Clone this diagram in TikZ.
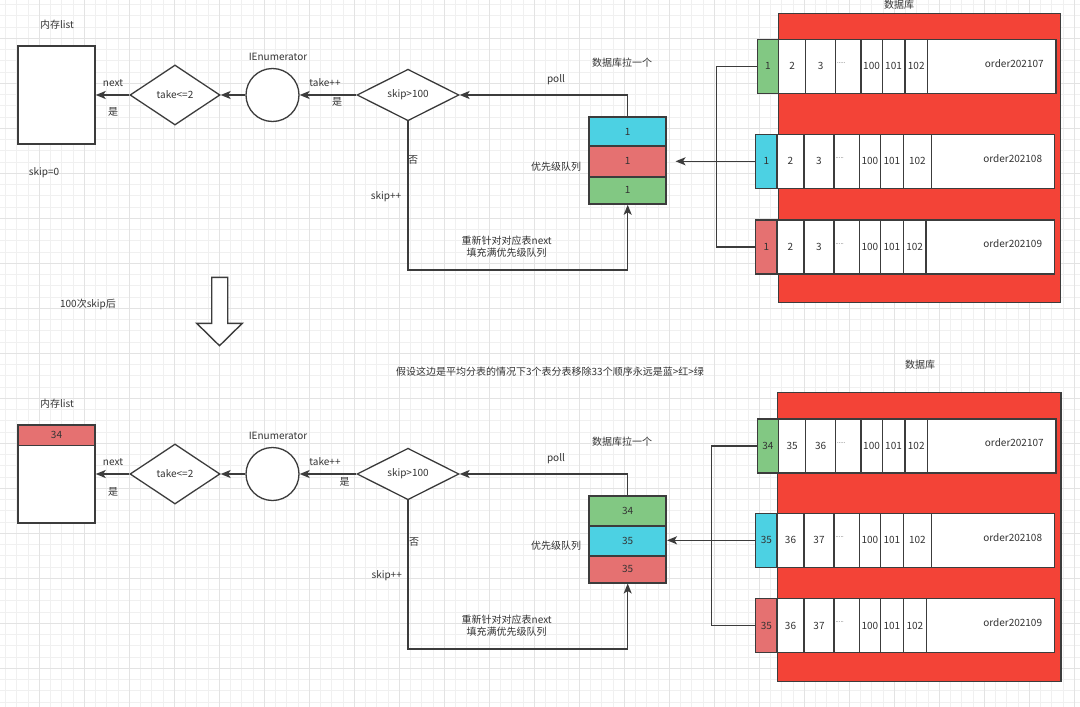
\documentclass[tikz,border=0pt]{standalone}
\usepackage{fontspec}
\setmainfont{Noto Sans CJK SC}
\usetikzlibrary{
    arrows.meta,
    shapes.geometric,
    calc
}
\definecolor{linec}{HTML}{3C3C3C}
\definecolor{txtc}{HTML}{333333}
\definecolor{qgreen}{HTML}{82C883}
\definecolor{qcyan}{HTML}{4CD1E3}
\definecolor{qred}{HTML}{E57171}
\definecolor{dbred}{HTML}{F34337}
\definecolor{gridminor}{HTML}{F0F0F0}
\definecolor{gridmajor}{HTML}{E3E3E3}

% one table row: name, left x, centre y, head colour, head text,
% 2nd cell, 3rd cell, last divider, table name
\newcommand{\dbrow}[9]{%
    \node[cell, fill=#4, minimum width=21.3pt] (#1-h) at ({#2+10.65},#3) {#5};
    \foreach \xa/\xb/\lab/\nm in {21.3/48.3/#6/a, 48.3/78.3/#7/b, 78.3/103.5/{}/c,
            103.5/125/100/d, 125/147.5/101/e, 147.5/#8/102/f}
        \node[cell, minimum width={(\xb-\xa)*1pt}] (#1-\nm) at ({#2+(\xa+\xb)/2},#3) {\lab};
    \node[txt, font=\fontsize{6}{6}\selectfont, anchor=west] (#1-dots) at ($(#1-c.west)+(2,-3)$) {.....};
    \node[cell, minimum width={(298.5-#8)*1pt}] (#1-o) at ({#2+(#8+298.5)/2},#3) {};
    \node[txt] (#1-t) at ({#2+257},{#3-3}) {#9};
}

\begin{document}
\begin{tikzpicture}[x=1pt, y=-1pt,
    txt/.style={text=txtc, inner sep=0pt, font=\fontsize{10}{11.7}\selectfont},
    cell/.style={draw=linec, line width=1.4pt, fill=white, minimum height=54pt,
        inner sep=0pt, text=txtc, font=\fontsize{10}{12}\selectfont},
    qcell/.style={draw=linec, line width=1.6pt, minimum width=77pt, inner sep=0pt,
        text=txtc, font=\fontsize{10}{12}\selectfont},
    listbox/.style={draw=linec, line width=1.4pt, fill=white, minimum width=77pt, inner sep=0pt},
    decision/.style={diamond, draw=linec, line width=1.3pt, fill=white, inner sep=0pt,
        text=txtc, font=\fontsize{10}{12}\selectfont},
    enumc/.style={circle, draw=linec, line width=1.3pt, fill=white, minimum size=53pt, inner sep=0pt},
    dbbox/.style={draw=linec, line width=1.4pt, fill=dbred, inner sep=0pt},
    conn/.style={draw=linec, line width=1.3pt},
    arr/.style={conn, -{Stealth[length=10pt, width=8pt, inset=2.5pt]}}]

\useasboundingbox[fill=white] (0,0) rectangle (1080,707);

% background grid
\foreach \k in {0,...,95}
    \draw[gridminor, line width=0.7pt] ({5.55+11.25*\k},0) -- ({5.55+11.25*\k},707);
\foreach \k in {0,...,62}
    \draw[gridminor, line width=0.7pt] (0,{4.55+11.25*\k}) -- (1080,{4.55+11.25*\k});
\foreach \k in {0,...,23}
    \draw[gridmajor, line width=0.8pt] ({39.3+45*\k},0) -- ({39.3+45*\k},707);
\foreach \k in {0,...,15}
    \draw[gridmajor, line width=0.8pt] (0,{38.3+45*\k}) -- (1080,{38.3+45*\k});

%%%%% before
\node[txt] (memlbl) at (57,25) {内存list};
\node[listbox, minimum height=98pt] (mem) at (56.5,95) {};
\node[txt] (skip0) at (44,173) {skip=0};
\node[decision, minimum width=90pt, minimum height=60pt] (taked) at (175,95) {take<=2};
\node[enumc] (enum) at (272.5,95) {};
\node[txt] (enumlbl) at (278,57) {IEnumerator};
\node[decision, minimum width=102pt, minimum height=47pt] (skipd) at (408,95) {skip>100};

\node[qcell, fill=qcyan, minimum height=29pt] (q1) at (627.7,131.5) {1};
\node[qcell, fill=qred, minimum height=30.7pt] (q2) at (627.7,161.35) {1};
\node[qcell, fill=qgreen, minimum height=27.3pt] (q3) at (627.7,190.35) {1};
\node[txt] (qlbl) at (556,166.7) {优先级队列};

\node[txt] (next) at (113,83) {next};
\node[txt] (yes1) at (113,112) {是};
\node[txt] (takepp) at (325,83) {take++};
\node[txt] (yes2) at (337,102) {是};
\node[txt] (no) at (413,160) {否};
\node[txt] (skippp) at (386,197) {skip++};
\node[txt] (pull) at (622,63) {数据库拉一个};
\node[txt] (poll) at (556,80) {poll};
\node[txt, align=center] (refill) at (506.7,247) {重新针对对应表next\\填充满优先级队列};

\draw[arr] (skipd.west) -- (enum.east);
\draw[arr] (enum.west) -- (taked.east);
\draw[arr] (taked.west) -- (mem.east);
\coordinate (loop) at (627.7,270);
\draw[arr] (skipd.south) |- (loop) -- (q3.south);
\draw[arr] (q1.north) |- (skipd.east);

% database
\node[dbbox, minimum width=282.4pt, minimum height=289.4pt] (db) at (919.5,158) {};
\node[txt] (dblbl) at (899,5) {数据库};
\dbrow{r1}{757.3}{66.3}{qgreen}{1}{2}{3}{170.4}{order202107}
\dbrow{r2}{755.7}{161.3}{qcyan}{1}{2}{3}{176}{order202108}
\dbrow{r3}{755.7}{247}{qred}{1}{2}{3}{170.3}{order202109}

\coordinate (bus1) at (716.7,66.3);
\coordinate (bus3) at (716.7,247);
\draw[conn, line width=1.2pt] (r1-h.west) -- (bus1) -- (bus3) -- (r3-h.west);
\draw[arr, line width=1.6pt, shorten >=8.5pt] (r2-h.west) -- (r2-h.west -| q2.east);

%%%%% transition
\node[txt] (after) at (88,304) {100次skip后};
\draw[draw=linec, line width=1.4pt, fill=white] (211.7,277.3) -- (227.7,277.3) -- (227.7,323.3)
    -- (242.3,323.3) -- (219.5,345.7) -- (196.7,323.3) -- (211.7,323.3) -- cycle;
\node[txt] (note) at (550,371.7) {假设这边是平均分表的情况下3个表分表移除33个顺序永远是蓝>红>绿};

%%%%% after
\node[txt] (b-memlbl) at (57,404) {内存list};
\node[listbox, minimum height=98pt] (b-mem) at (56.5,474) {};
\node[listbox, fill=qred, minimum height=20.7pt, text=txtc, font=\fontsize{10}{12}\selectfont] (b-memtop) at (56.5,435.35) {34};
\node[decision, minimum width=90pt, minimum height=60pt] (b-taked) at (175,474) {take<=2};
\node[enumc] (b-enum) at (272.5,474) {};
\node[txt] (b-enumlbl) at (278,436) {IEnumerator};
\node[decision, minimum width=102pt, minimum height=47pt] (b-skipd) at (408,474) {skip>100};

\node[qcell, fill=qgreen, minimum height=30pt] (b-q1) at (627.7,510.7) {34};
\node[qcell, fill=qcyan, minimum height=30pt] (b-q2) at (627.7,540.7) {35};
\node[qcell, fill=qred, minimum height=27pt] (b-q3) at (627.7,569.2) {35};
\node[txt] (b-qlbl) at (556,545.7) {优先级队列};

\node[txt] (b-next) at (113,462) {next};
\node[txt] (b-yes1) at (113,491.7) {是};
\node[txt] (b-takepp) at (325,462) {take++};
\node[txt] (b-yes2) at (344.5,481.7) {是};
\node[txt] (b-no) at (414,541.7) {否};
\node[txt] (b-skippp) at (386.7,575.7) {skip++};
\node[txt] (b-pull) at (622,441.7) {数据库拉一个};
\node[txt] (b-poll) at (556,459) {poll};
\node[txt, align=center] (b-refill) at (506.7,626) {重新针对对应表next\\填充满优先级队列};

\draw[arr] (b-skipd.west) -- (b-enum.east);
\draw[arr] (b-enum.west) -- (b-taked.east);
\draw[arr] (b-taked.west) -- (b-mem.east);
\coordinate (b-loop) at (627.7,649);
\draw[arr] (b-skipd.south) |- (b-loop) -- (b-q3.south);
\draw[arr] (b-q1.north) |- (b-skipd.east);

% database
\node[dbbox, minimum width=283.3pt, minimum height=289.4pt] (b-db) at (919.35,537) {};
\node[txt] (b-dblbl) at (920,365) {数据库};
\dbrow{s1}{757.3}{445.9}{qgreen}{34}{35}{36}{170.4}{order202107}
\dbrow{s2}{755.7}{540.3}{qcyan}{35}{36}{37}{176}{order202108}
\dbrow{s3}{755.7}{625.5}{qred}{35}{36}{37}{171}{order202109}

\coordinate (b-bus1) at (711.7,445.9);
\coordinate (b-bus3) at (711.7,625.5);
\draw[conn, line width=1.2pt] (s1-h.west) -- (b-bus1) -- (b-bus3) -- (s3-h.west);
\draw[arr, line width=1.6pt] (s2-h.west) -- (s2-h.west -| b-q2.east);

\end{tikzpicture}
\end{document}
